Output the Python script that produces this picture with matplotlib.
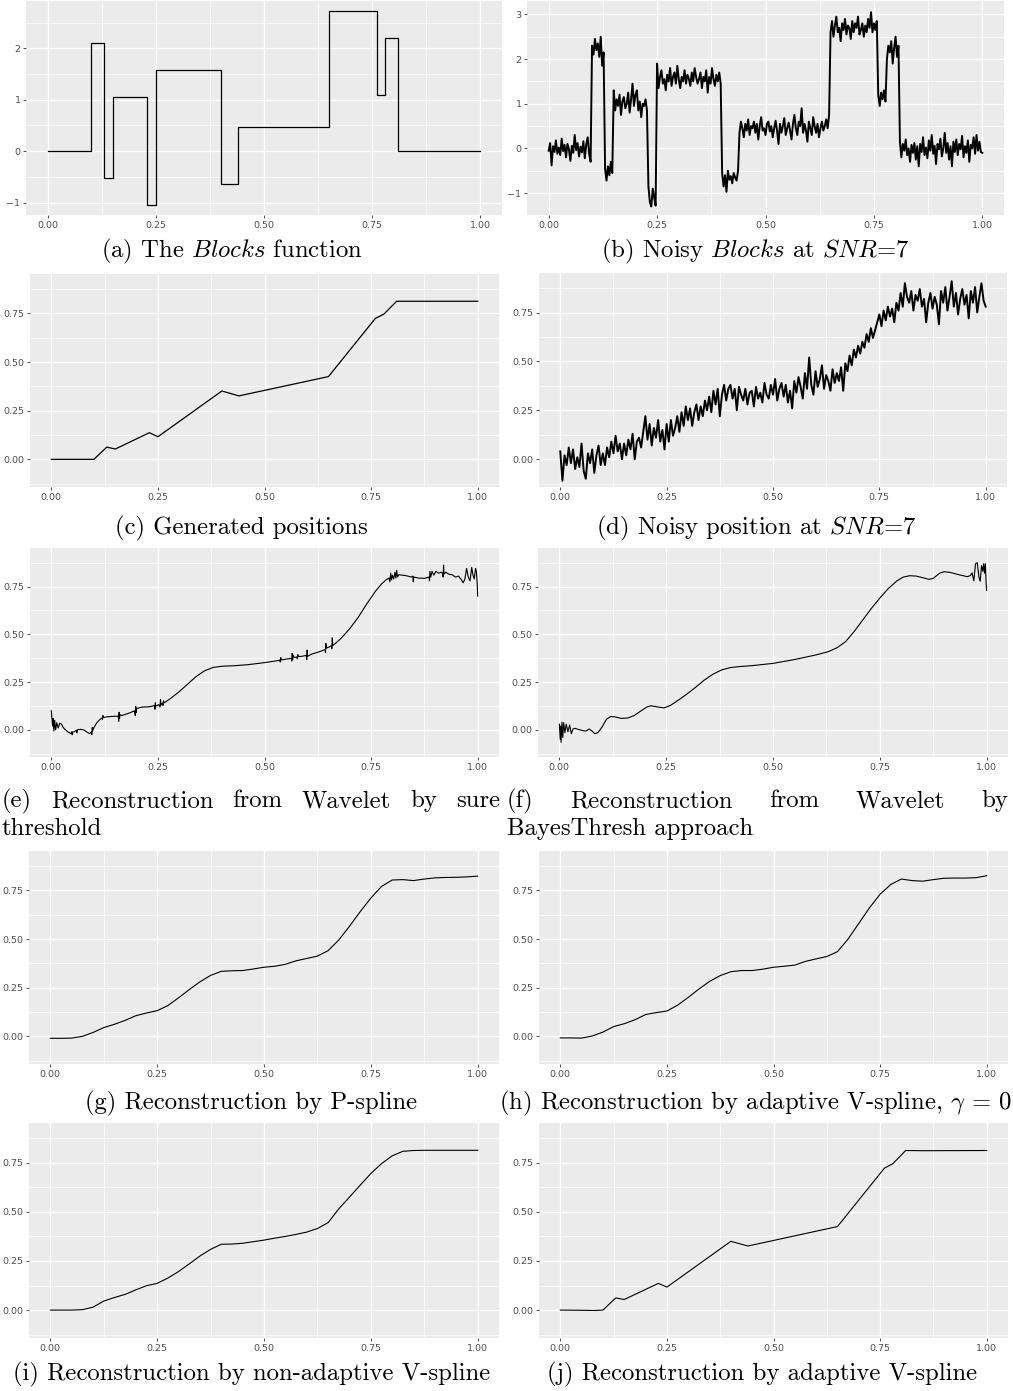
import numpy as np
import matplotlib
matplotlib.use("Agg")
import matplotlib.pyplot as plt

plt.rcParams["mathtext.fontset"] = "cm"
plt.rcParams["font.family"] = "DejaVu Sans"

W, H = 1013, 1391
CAP = 17.8

# Blocks function: jump locations and the level held between them
blk_x = [0.0, 0.10, 0.13, 0.15, 0.23, 0.25, 0.40, 0.44, 0.65, 0.76, 0.78, 0.81, 1.0]
blk_level = [0.0, 2.10, -0.52, 1.05, -1.05, 1.57, -0.63, 0.47, 2.72, 1.10, 2.20, 0.0]

# noisy Blocks, one list of observations per block
noisy_blk = [
    [-0.05, 0.12, -0.38, 0.05, -0.08, 0.18, -0.12, 0.02, -0.15, 0.22, -0.06, 0.08, -0.20, 0.10, -0.02,
     -0.28, 0.06, -0.10, 0.30, -0.04, 0.12, -0.18, 0.04, -0.09, 0.16, -0.22, 0.09, 0.25, -0.12, -0.30],
    [2.30, 2.10, 2.45, 2.20, 2.35, 2.05, 2.50, 1.85, 2.15],
    [-0.45, -0.72, -0.40, -0.60, -0.30, -0.55],
    [1.30, 0.85, 1.10, 0.95, 1.20, 0.75, 1.05, 1.15, 0.90, 1.00, 1.25, 0.80, 1.10, 1.45, 0.95, 1.20,
     1.30, 0.85, 1.05, 0.70, 1.00, 0.95, 1.10, 0.85],
    [-0.85, -1.20, -1.30, -0.90, -1.10, -1.28],
    [1.90, 1.35, 1.60, 1.75, 1.45, 1.55, 1.30, 1.65, 1.50, 1.80, 1.40, 1.60, 1.70, 1.45, 1.85, 1.55,
     1.35, 1.60, 1.50, 1.75, 1.45, 1.65, 1.55, 1.40, 1.70, 1.50, 1.80, 1.60, 1.45, 1.55, 1.70, 1.35,
     1.60, 1.50, 1.75, 1.25, 1.60, 1.45, 1.80, 1.55, 1.40, 1.65, 1.50, 1.70, 1.45],
    [-0.55, -0.85, -0.60, -0.97, -0.50, -0.70, -0.62, -0.78, -0.55, -0.65, -0.72, -0.50],
    [0.35, 0.60, 0.45, 0.25, 0.55, 0.40, 0.65, 0.30, 0.50, 0.45, 0.60, 0.35, 0.55, 0.20, 0.50, 0.70,
     0.40, 0.45, 0.30, 0.55, 0.60, 0.38, 0.50, 0.25, 0.45, 0.62, 0.40, 0.10, 0.55, 0.35, 0.50, 0.68,
     0.30, 0.45, 0.58, 0.40, 0.20, 0.55, 0.75, 0.45, 0.30, 0.60, 0.50, 0.90, 0.35, 0.55, 0.40, 0.15,
     0.60, 0.45, 0.30, 0.70, 0.50, 0.35, 0.55, 0.25, 0.45, 0.60, 0.40, 0.50, 0.65, 0.45, 0.75],
    [2.60, 2.85, 2.50, 2.75, 2.95, 2.60, 2.70, 2.40, 2.80, 2.65, 2.90, 2.55, 2.75, 2.70, 2.45, 2.85,
     2.60, 2.80, 2.70, 2.95, 2.55, 2.65, 2.80, 2.50, 2.75, 2.60, 2.90, 2.70, 3.05, 2.60, 2.80, 2.65, 2.85],
    [1.20, 0.95, 1.25, 1.10, 1.30, 1.05],
    [2.00, 2.30, 2.15, 2.40, 1.90, 2.25, 2.50, 2.05, 2.30],
    [0.15, -0.20, 0.10, -0.05, 0.20, -0.15, 0.00, -0.30, 0.08, -0.10, 0.12, -0.25, 0.05, -0.40, 0.10,
     -0.08, 0.25, -0.15, 0.02, -0.22, 0.18, -0.05, 0.30, -0.12, 0.06, -0.35, 0.10, -0.02, 0.22, -0.18,
     0.00, 0.35, -0.10, 0.12, -0.25, 0.05, -0.40, 0.15, -0.08, 0.20, -0.15, 0.10, -0.02, 0.28, -0.20,
     0.05, -0.10, 0.18, -0.30, 0.08, 0.00, 0.25, -0.12, 0.30, -0.05, 0.15, -0.08, -0.10],
]

# generated positions (running integral of the blocks)
pos_x = [0.0, 0.10, 0.13, 0.15, 0.23, 0.25, 0.40, 0.44, 0.65, 0.76, 0.78, 0.81, 1.0]
pos_y = [0.0, 0.0, 0.063, 0.053, 0.137, 0.116, 0.351, 0.326, 0.425, 0.724, 0.746, 0.812, 0.812]

# noisy positions on a regular grid of step 0.005
noisy_pos = [
    0.04, -0.11, 0.02, -0.03, 0.06, -0.02, 0.05, -0.05, 0.01, -0.04,
    0.08, -0.06, -0.10, 0.03, -0.02, 0.05, -0.07, 0.02, 0.07, -0.03,
    0.03, -0.03, 0.06, 0.01, 0.09, 0.03, 0.12, 0.04, 0.08, 0.00,
    0.08, 0.02, 0.10, 0.05, 0.13, 0.00, 0.09, 0.11, 0.06, 0.14,
    0.22, 0.10, 0.18, 0.07, 0.16, 0.11, 0.20, 0.09, 0.15, 0.05,
    0.18, 0.09, 0.20, 0.12, 0.16, 0.22, 0.14, 0.24, 0.17, 0.27,
    0.20, 0.26, 0.17, 0.24, 0.28, 0.20, 0.27, 0.22, 0.30, 0.25,
    0.32, 0.24, 0.35, 0.28, 0.36, 0.22, 0.33, 0.38, 0.30, 0.36,
    0.38, 0.31, 0.36, 0.25, 0.37, 0.33, 0.30, 0.36, 0.28, 0.34,
    0.35, 0.27, 0.37, 0.31, 0.34, 0.29, 0.39, 0.33, 0.31, 0.38,
    0.33, 0.41, 0.30, 0.36, 0.39, 0.32, 0.38, 0.29, 0.35, 0.26,
    0.40, 0.34, 0.42, 0.37, 0.31, 0.44, 0.36, 0.52, 0.38, 0.33,
    0.45, 0.37, 0.41, 0.48, 0.36, 0.43, 0.40, 0.35, 0.46, 0.39,
    0.44, 0.40, 0.47, 0.35, 0.49, 0.45, 0.53, 0.48, 0.56, 0.52,
    0.58, 0.54, 0.60, 0.57, 0.64, 0.60, 0.67, 0.62, 0.66, 0.70,
    0.74, 0.68, 0.76, 0.71, 0.78, 0.73, 0.77, 0.70, 0.80, 0.76,
    0.85, 0.78, 0.90, 0.83, 0.80, 0.86, 0.76, 0.84, 0.81, 0.87,
    0.78, 0.82, 0.70, 0.80, 0.85, 0.77, 0.83, 0.79, 0.69, 0.86,
    0.80, 0.88, 0.76, 0.83, 0.91, 0.78, 0.85, 0.74, 0.82, 0.87,
    0.79, 0.84, 0.72, 0.86, 0.80, 0.88, 0.75, 0.83, 0.90, 0.81,
    0.78,
]

# wavelet reconstruction, SURE threshold
sure_fit = [
    (0.000, 0.100), (0.001, 0.070), (0.003, 0.020), (0.004, 0.060), (0.006, -0.005), (0.008, 0.050),
    (0.010, 0.000), (0.013, 0.038), (0.016, 0.010), (0.020, 0.035), (0.024, 0.030), (0.028, 0.012),
    (0.034, -0.002), (0.040, -0.012), (0.046, -0.020), (0.048, -0.010), (0.049, -0.025), (0.050, -0.012),
    (0.055, -0.008), (0.059, -0.002), (0.060, -0.015), (0.061, 0.000), (0.068, 0.003), (0.076, 0.000),
    (0.084, -0.012), (0.090, -0.020), (0.094, -0.010), (0.095, -0.025), (0.096, 0.012), (0.097, -0.005),
    (0.100, 0.012), (0.106, 0.035), (0.112, 0.050), (0.118, 0.062), (0.120, 0.055), (0.121, 0.075),
    (0.122, 0.065), (0.130, 0.068), (0.140, 0.070), (0.150, 0.071), (0.157, 0.072), (0.158, 0.045),
    (0.159, 0.092), (0.160, 0.060), (0.161, 0.080), (0.165, 0.075), (0.175, 0.082), (0.185, 0.090),
    (0.195, 0.100), (0.197, 0.075), (0.198, 0.122), (0.199, 0.090), (0.200, 0.112), (0.205, 0.115),
    (0.215, 0.120), (0.225, 0.120), (0.235, 0.123), (0.242, 0.128), (0.243, 0.108), (0.244, 0.142),
    (0.245, 0.125), (0.252, 0.132), (0.255, 0.120), (0.256, 0.158), (0.257, 0.130), (0.260, 0.140),
    (0.262, 0.128), (0.263, 0.152), (0.265, 0.142), (0.280, 0.165), (0.300, 0.200), (0.320, 0.240),
    (0.340, 0.280), (0.360, 0.310), (0.380, 0.327), (0.400, 0.333), (0.430, 0.336), (0.460, 0.341),
    (0.500, 0.352), (0.530, 0.362), (0.536, 0.365), (0.537, 0.355), (0.538, 0.378), (0.540, 0.366),
    (0.555, 0.372), (0.563, 0.374), (0.564, 0.360), (0.565, 0.400), (0.566, 0.368), (0.567, 0.392),
    (0.570, 0.378), (0.576, 0.382), (0.577, 0.372), (0.578, 0.394), (0.580, 0.383), (0.590, 0.386),
    (0.598, 0.390), (0.599, 0.368), (0.600, 0.418), (0.601, 0.385), (0.610, 0.396), (0.630, 0.410),
    (0.642, 0.420), (0.643, 0.405), (0.644, 0.452), (0.645, 0.428), (0.650, 0.432), (0.657, 0.440),
    (0.658, 0.425), (0.659, 0.482), (0.660, 0.442), (0.665, 0.450), (0.680, 0.480), (0.700, 0.530),
    (0.720, 0.590), (0.740, 0.660), (0.760, 0.725), (0.775, 0.765), (0.785, 0.785), (0.792, 0.795),
    (0.794, 0.775), (0.796, 0.820), (0.798, 0.785), (0.800, 0.810), (0.803, 0.790), (0.806, 0.825),
    (0.808, 0.795), (0.810, 0.835), (0.812, 0.800), (0.815, 0.812), (0.830, 0.808), (0.845, 0.800),
    (0.848, 0.805), (0.849, 0.775), (0.850, 0.800), (0.860, 0.795), (0.875, 0.793), (0.886, 0.800),
    (0.887, 0.780), (0.888, 0.830), (0.890, 0.800), (0.893, 0.830), (0.897, 0.810), (0.902, 0.830),
    (0.908, 0.820), (0.914, 0.825), (0.918, 0.820), (0.919, 0.800), (0.920, 0.862), (0.921, 0.815),
    (0.925, 0.825), (0.932, 0.815), (0.940, 0.812), (0.948, 0.800), (0.955, 0.805), (0.962, 0.785),
    (0.966, 0.770), (0.970, 0.790), (0.974, 0.845), (0.978, 0.800), (0.982, 0.780), (0.986, 0.850),
    (0.989, 0.810), (0.992, 0.790), (0.995, 0.845), (0.997, 0.830), (0.999, 0.760), (1.000, 0.700),
]

# wavelet reconstruction, BayesThresh
bayes_fit = [
    (0.000, 0.030), (0.002, -0.050), (0.003, 0.020), (0.004, -0.065), (0.006, 0.040), (0.008, -0.040),
    (0.010, 0.038), (0.013, -0.015), (0.016, 0.030), (0.020, -0.010), (0.024, 0.025), (0.028, -0.020),
    (0.032, 0.005), (0.036, 0.008), (0.045, 0.002), (0.055, -0.004), (0.062, -0.006), (0.070, 0.004),
    (0.076, -0.005), (0.083, -0.020), (0.090, -0.015), (0.100, 0.015), (0.110, 0.055), (0.120, 0.070),
    (0.130, 0.068), (0.145, 0.060), (0.160, 0.062), (0.175, 0.075), (0.190, 0.098), (0.205, 0.120),
    (0.215, 0.126), (0.230, 0.120), (0.245, 0.115), (0.260, 0.128), (0.280, 0.158), (0.300, 0.190),
    (0.320, 0.225), (0.340, 0.262), (0.360, 0.292), (0.380, 0.314), (0.400, 0.326), (0.420, 0.331),
    (0.450, 0.336), (0.500, 0.348), (0.550, 0.368), (0.600, 0.392), (0.630, 0.410), (0.650, 0.430),
    (0.670, 0.462), (0.690, 0.515), (0.710, 0.575), (0.730, 0.635), (0.750, 0.690), (0.770, 0.740),
    (0.790, 0.780), (0.805, 0.800), (0.820, 0.807), (0.835, 0.805), (0.850, 0.797), (0.865, 0.788),
    (0.875, 0.793), (0.890, 0.820), (0.900, 0.828), (0.915, 0.824), (0.935, 0.812), (0.955, 0.802),
    (0.962, 0.808), (0.966, 0.822), (0.970, 0.780), (0.974, 0.870), (0.978, 0.875), (0.982, 0.800),
    (0.985, 0.778), (0.988, 0.860), (0.991, 0.830), (0.993, 0.870), (0.995, 0.820), (0.997, 0.870),
    (0.999, 0.760), (1.000, 0.730),
]

# spline fits evaluated every 0.025
fit_x = [i / 40 for i in range(41)]
pspline_y = [-0.010, -0.010, -0.009, 0.000, 0.020, 0.045, 0.062, 0.082, 0.106, 0.120, 0.132,
             0.158, 0.198, 0.240, 0.280, 0.313, 0.334, 0.337, 0.338, 0.346, 0.355, 0.360, 0.370,
             0.388, 0.400, 0.412, 0.440, 0.495, 0.565, 0.640, 0.710, 0.770, 0.803, 0.805, 0.800,
             0.808, 0.814, 0.816, 0.817, 0.819, 0.823]
vspline0_y = [-0.008, -0.008, -0.009, 0.002, 0.022, 0.050, 0.065, 0.085, 0.112, 0.122, 0.130,
              0.160, 0.200, 0.243, 0.282, 0.312, 0.332, 0.338, 0.338, 0.345, 0.355, 0.360, 0.366,
              0.385, 0.398, 0.410, 0.435, 0.500, 0.580, 0.660, 0.730, 0.780, 0.808, 0.800, 0.797,
              0.805, 0.812, 0.813, 0.813, 0.815, 0.825]
vspline_na_y = [0.000, 0.000, 0.000, 0.002, 0.015, 0.046, 0.064, 0.080, 0.103, 0.124, 0.136,
                0.163, 0.196, 0.235, 0.275, 0.309, 0.335, 0.336, 0.340, 0.348, 0.356, 0.366, 0.375,
                0.385, 0.397, 0.415, 0.445, 0.515, 0.575, 0.635, 0.695, 0.745, 0.785, 0.808, 0.812,
                0.813, 0.813, 0.813, 0.813, 0.813, 0.813]

# adaptive V-spline
avspline_x = [0.0, 0.05, 0.08, 0.10, 0.13, 0.15, 0.23, 0.25, 0.40, 0.44, 0.65, 0.76, 0.78, 0.81, 0.85, 1.0]
avspline_y = [0.0, -0.001, -0.002, 0.0, 0.062, 0.054, 0.136, 0.117, 0.350, 0.326, 0.425, 0.722,
              0.745, 0.812, 0.811, 0.812]

xtick_vals = [0.0, 0.25, 0.5, 0.75, 1.0]
xtick_text = ["0.00", "0.25", "0.50", "0.75", "1.00"]
pos_ticks = [0.0, 0.25, 0.5, 0.75]
pos_text = ["0.00", "0.25", "0.50", "0.75"]


def gg_axes(fig, box, ylim, yticks, ylabels, yminor):
    x0, y0, x1, y1 = box
    ax = fig.add_axes([x0 / W, 1 - y1 / H, (x1 - x0) / W, (y1 - y0) / H])
    ax.set_facecolor("#EBEBEB")
    ax.set_xlim(-0.05, 1.05)
    ax.set_ylim(*ylim)
    ax.set_xticks(xtick_vals, xtick_text)
    ax.set_xticks([0.125, 0.375, 0.625, 0.875], minor=True)
    ax.set_yticks(yticks, ylabels)
    ax.set_yticks(yminor, minor=True)
    ax.grid(which="major", color="white", lw=1.0)
    ax.grid(which="minor", color="white", lw=0.5)
    ax.set_axisbelow(True)
    for s in ax.spines.values():
        s.set_visible(False)
    ax.tick_params(which="major", length=2, width=0.6, color="#333333",
                   labelsize=6.8, labelcolor="#4D4D4D", pad=2)
    ax.tick_params(which="minor", length=0)
    return ax


def pos_axes(fig, box):
    return gg_axes(fig, box, (-0.142, 0.952), pos_ticks, pos_text,
                   [-0.125, 0.125, 0.375, 0.625, 0.875])


def caption(fig, x, y, s):
    fig.text(x / W, 1 - y / H, s, ha="center", va="baseline", family="cmr10", size=CAP)


def justified(fig, words, x0, x1, y):
    r = fig.canvas.get_renderer()
    ts = [fig.text(0, 1 - y / H, w, ha="left", va="baseline", family="cmr10", size=CAP)
          for w in words]
    widths = [t.get_window_extent(r).width for t in ts]
    gap = (x1 - x0 - sum(widths)) / (len(ts) - 1)
    x = x0
    for t, w in zip(ts, widths):
        t.set_x(x / W)
        x += w + gap


fig = plt.figure(figsize=(W / 100, H / 100), dpi=100)

# (a) Blocks
ax = gg_axes(fig, (26, 1, 502, 215), (-1.24, 2.92), [-1, 0, 1, 2],
             ["\u22121", "0", "1", "2"], [-0.5, 0.5, 1.5, 2.5])
ax.step(blk_x, blk_level + [blk_level[-1]], where="post", color="black", lw=0.9)

# (b) noisy Blocks
ax = gg_axes(fig, (527, 1, 1004, 215), (-1.49, 3.30), [-1, 0, 1, 2, 3],
             ["\u22121", "0", "1", "2", "3"], [-0.5, 0.5, 1.5, 2.5])
bx, by = [], []
for k, seg in enumerate(noisy_blk):
    bx.extend(np.linspace(blk_x[k], blk_x[k + 1], len(seg), endpoint=(k == len(noisy_blk) - 1)))
    by.extend(seg)
ax.plot(bx, by, color="black", lw=1.4)

# (c) positions
ax = pos_axes(fig, (30, 274, 499, 487))
ax.plot(pos_x, pos_y, color="black", lw=0.9)

# (d) noisy positions
ax = pos_axes(fig, (539, 273, 1007, 487))
ax.plot(np.linspace(0, 1, len(noisy_pos)), noisy_pos, color="black", lw=1.4)

# (e) wavelet, sure
ax = pos_axes(fig, (30, 548, 499, 757))
sx, sy = zip(*sure_fit)
ax.plot(sx, sy, color="black", lw=0.8)

# (f) wavelet, BayesThresh
ax = pos_axes(fig, (538, 548, 1008, 757))
fx, fy = zip(*bayes_fit)
ax.plot(fx, fy, color="black", lw=0.8)

# (g) P-spline
ax = pos_axes(fig, (29, 851, 499, 1064))
ax.plot(fit_x, pspline_y, color="black", lw=0.8)

# (h) adaptive V-spline, gamma = 0
ax = pos_axes(fig, (539, 851, 1008, 1064))
ax.plot(fit_x, vspline0_y, color="black", lw=0.8)

# (i) non-adaptive V-spline
ax = pos_axes(fig, (29, 1123, 499, 1338))
ax.plot(fit_x, vspline_na_y, color="black", lw=0.8)

# (j) adaptive V-spline
ax = pos_axes(fig, (539, 1123, 1008, 1338))
ax.plot(avspline_x, avspline_y, color="black", lw=0.8)

caption(fig, 232, 257, r"(a) The $\mathit{Blocks}$ function")
caption(fig, 755, 257, r"(b) Noisy $\mathit{Blocks}$ at $\mathit{SNR}$=7")
caption(fig, 241, 534, "(c) Generated positions")
caption(fig, 756, 534, r"(d) Noisy position at $\mathit{SNR}$=7")
justified(fig, ["(e)", "Reconstruction", "from", "Wavelet", "by", "sure"], 2, 500, 807)
fig.text(2 / W, 1 - 835 / H, "threshold", ha="left", va="baseline", family="cmr10", size=CAP)
justified(fig, ["(f)", "Reconstruction", "from", "Wavelet", "by"], 507, 1008, 807)
fig.text(507 / W, 1 - 835 / H, "BayesThresh approach", ha="left", va="baseline",
         family="cmr10", size=CAP)
caption(fig, 251, 1109, "(g) Reconstruction by P-spline")
caption(fig, 756, 1109, r"(h) Reconstruction by adaptive V-spline, $\gamma$ = 0")
caption(fig, 252, 1380, "(i) Reconstruction by non-adaptive V-spline")
caption(fig, 762, 1380, "(j) Reconstruction by adaptive V-spline")

fig.savefig("out.png", dpi=100)
